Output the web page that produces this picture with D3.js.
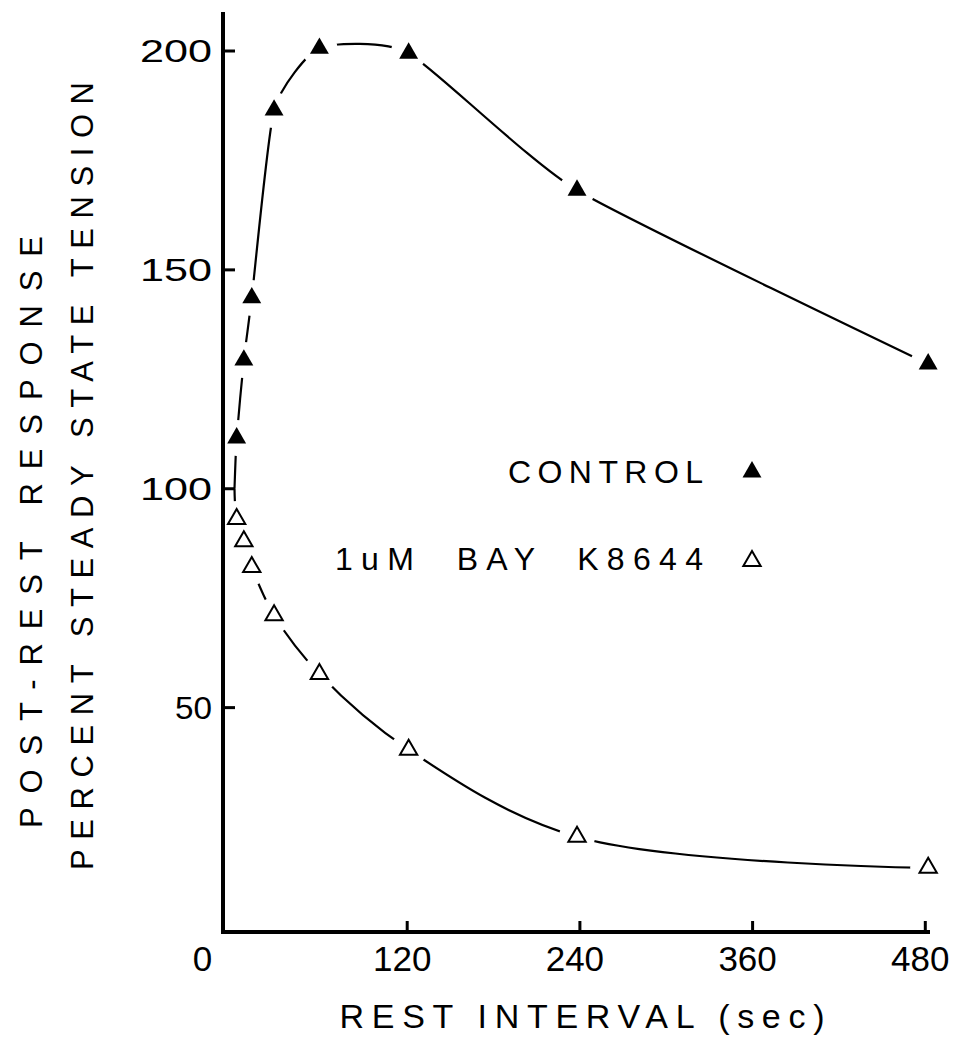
<!DOCTYPE html>
<html>
<head>
<meta charset="utf-8">
<script src="https://cdn.jsdelivr.net/npm/d3@7/dist/d3.min.js"></script>
<style>
  html, body { margin: 0; padding: 0; background: #fff; }
  svg { display: block; }
  text { font-family: "Liberation Sans", Arial, sans-serif; fill: #000; }
</style>
</head>
<body>
<svg id="chart" width="971" height="1043"></svg>
<script>
// ---- data ----
const restIntervals = [1.5, 6.5, 12, 27.5, 59, 121, 238, 482];   // sec
const controlValues = [111.6, 129.4, 143.6, 186.5, 200.6, 199.5, 168.2, 128.5];
const bayValues     = [93.1, 88.0, 82.1, 71.1, 57.7, 40.4, 20.5, 13.4];
const startRest = 0, startValue = 100;
const xTicks = [0, 120, 240, 360, 480];
const yTicks = [50, 100, 150, 200];
const seriesNames = ["CONTROL", "1uM  BAY  K8644"];

// ---- layout ----
const svg = d3.select("#chart");
const x = d3.scaleLinear().domain([0, 480]).range([234.5, 925.3]);
const y = d3.scaleLinear().domain([0, 200]).range([926.5, 51]);
const axisX = 223, axisY = 932, axisTop = 12, axisRight = 930;

function series(vals) {
  return [[startRest, startValue]].concat(restIntervals.map((r, i) => [r, vals[i]]));
}
const lineControl = d3.line().x(d => x(d[0])).y(d => y(d[1])).curve(d3.curveCardinal.tension(0.45));
const lineBay = d3.line().x(d => x(d[0])).y(d => y(d[1])).curve(d3.curveCatmullRom.alpha(0.5));

const gLines = svg.append("g");
gLines.append("path").attr("d", lineControl(series(controlValues)))
  .attr("fill", "none").attr("stroke", "#000").attr("stroke-width", 2.2);
gLines.append("path").attr("d", lineBay(series(bayValues)))
  .attr("fill", "none").attr("stroke", "#000").attr("stroke-width", 2.2);

// gaps around markers
const gHalo = svg.append("g");
[controlValues, bayValues].forEach(vals => {
  gHalo.selectAll(null).data(restIntervals.map((r, i) => [r, vals[i]])).enter()
    .append("circle")
    .attr("cx", d => x(d[0])).attr("cy", d => y(d[1])).attr("r", 18)
    .attr("fill", "#fff");
});

// axes
const gAxes = svg.append("g");
gAxes.append("line").attr("x1", axisX).attr("x2", axisX).attr("y1", axisTop).attr("y2", axisY + 2)
  .attr("stroke", "#000").attr("stroke-width", 4);
gAxes.append("line").attr("x1", axisX - 2).attr("x2", axisRight).attr("y1", axisY).attr("y2", axisY)
  .attr("stroke", "#000").attr("stroke-width", 4);

// x ticks
gAxes.selectAll(".xt").data(xTicks.filter(d => d > 0)).enter().append("line")
  .attr("x1", d => x(d)).attr("x2", d => x(d))
  .attr("y1", axisY).attr("y2", axisY - 11)
  .attr("stroke", "#000").attr("stroke-width", 3);
gAxes.selectAll(".xl").data(xTicks).enter().append("text")
  .attr("x", d => d === 0 ? x(d) - 32 : x(d) - 5)
  .attr("y", 971)
  .attr("text-anchor", "middle")
  .attr("font-size", 35)
  .text(d => d);

// y ticks
gAxes.selectAll(".yt").data(yTicks).enter().append("line")
  .attr("x1", axisX).attr("x2", axisX + 12)
  .attr("y1", d => y(d)).attr("y2", d => y(d))
  .attr("stroke", "#000").attr("stroke-width", 3);
gAxes.selectAll(".yl").data(yTicks).enter().append("text")
  .each(function(d) {
    const s = String(d);
    const len = s.length === 3 ? 72 : 37;
    d3.select(this)
      .attr("transform", `translate(${212 - len},${y(d) + 11})`)
      .attr("font-size", 31)
      .attr("textLength", len)
      .attr("lengthAdjust", "spacingAndGlyphs")
      .text(s);
  });

// markers
const tri = d3.symbol().type(d3.symbolTriangle).size(155);
svg.append("g").selectAll("path").data(restIntervals.map((r, i) => [r, controlValues[i]])).enter()
  .append("path")
  .attr("d", tri)
  .attr("transform", d => `translate(${x(d[0])},${y(d[1])})`)
  .attr("fill", "#000");
const triOpen = d3.symbol().type(d3.symbolTriangle).size(130);
svg.append("g").selectAll("path").data(restIntervals.map((r, i) => [r, bayValues[i]])).enter()
  .append("path")
  .attr("d", triOpen)
  .attr("transform", d => `translate(${x(d[0])},${y(d[1])})`)
  .attr("fill", "#fff").attr("stroke", "#000").attr("stroke-width", 2);

// legend
svg.append("text").attr("x", 508).attr("y", 483).attr("font-size", 32)
  .attr("textLength", 195).attr("lengthAdjust", "spacing").text(seriesNames[0]);
svg.append("path").attr("d", tri).attr("transform", "translate(752,472)").attr("fill", "#000");
svg.append("text").attr("x", 335).attr("y", 570).attr("font-size", 32)
  .attr("textLength", 368).attr("lengthAdjust", "spacing")
  .style("white-space", "pre").text(seriesNames[1]);
svg.append("path").attr("d", triOpen).attr("transform", "translate(752,561)")
  .attr("fill", "#fff").attr("stroke", "#000").attr("stroke-width", 2);

// axis titles
svg.append("text").attr("x", 582).attr("y", 1028).attr("text-anchor", "middle")
  .attr("font-size", 34).attr("textLength", 485).attr("lengthAdjust", "spacing")
  .text("REST INTERVAL (sec)");
svg.append("text").attr("transform", "translate(42,532) rotate(-90)")
  .attr("text-anchor", "middle").attr("font-size", 31)
  .attr("textLength", 592).attr("lengthAdjust", "spacing")
  .text("POST-REST RESPONSE");
svg.append("text").attr("transform", "translate(93,476) rotate(-90)")
  .attr("text-anchor", "middle").attr("font-size", 31)
  .attr("textLength", 788).attr("lengthAdjust", "spacing")
  .text("PERCENT STEADY STATE TENSION");
</script>
</body>
</html>
